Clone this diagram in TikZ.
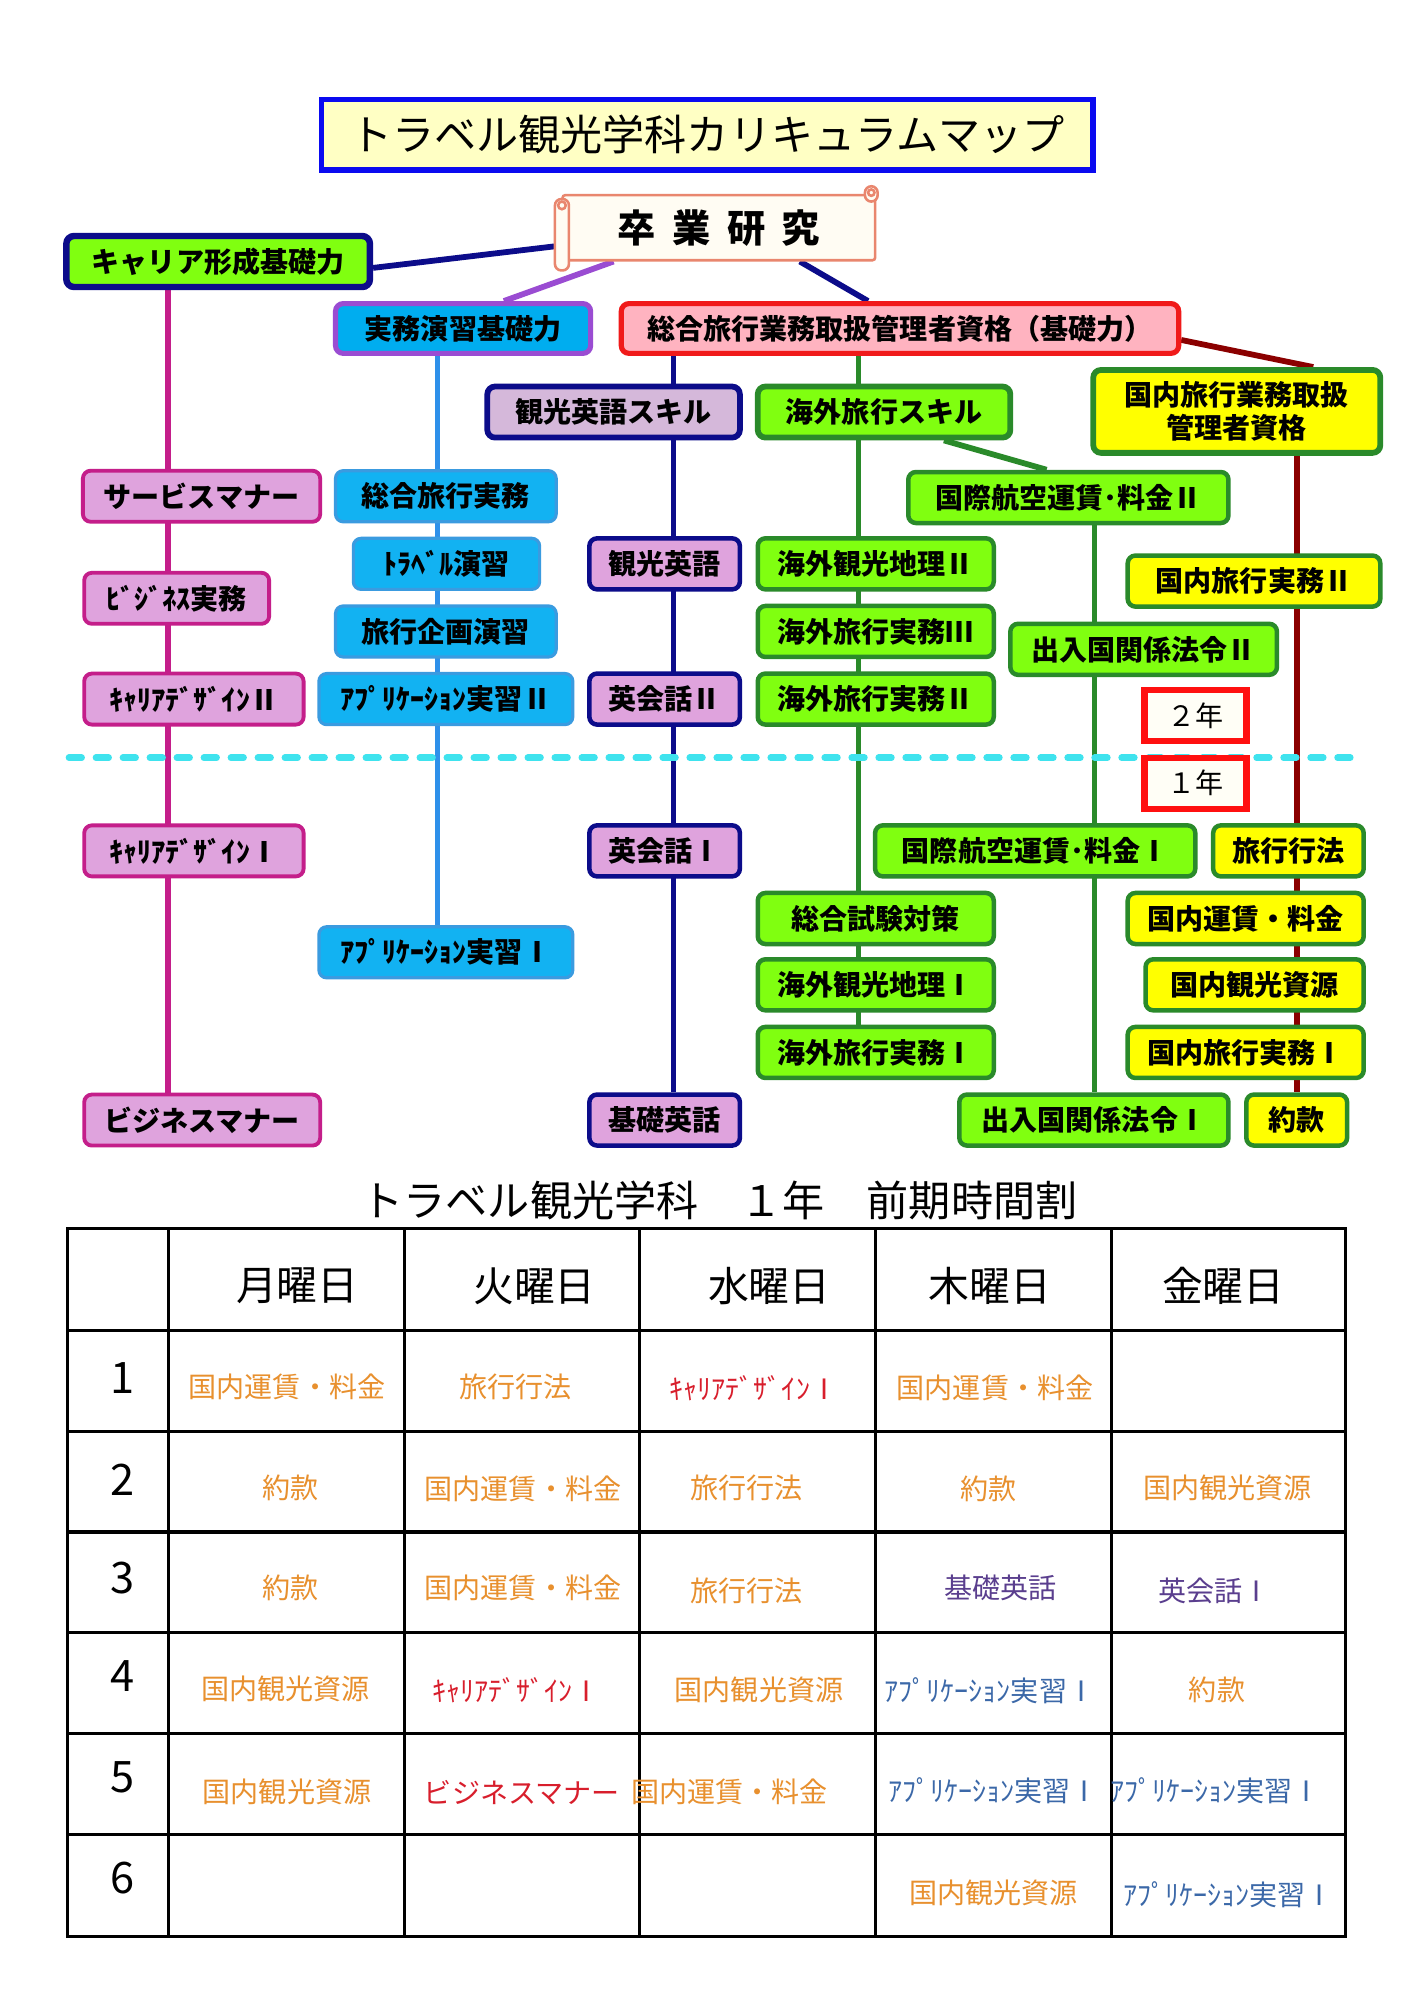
\documentclass[tikz,border=0pt]{standalone}
\usepackage{fontspec}
\setmainfont{Noto Sans CJK JP}
\usetikzlibrary{backgrounds,calc}
\definecolor{magc}{HTML}{C41E8A}
\definecolor{plumc}{HTML}{DFA3DD}
\definecolor{bluefill}{HTML}{12B2F2}
\definecolor{blueborder}{HTML}{3A9BE0}
\definecolor{bluel}{HTML}{2E90EA}
\definecolor{navyc}{HTML}{0C0C8A}
\definecolor{greenc}{HTML}{2A8A2A}
\definecolor{limec}{HTML}{80FF10}
\definecolor{yelc}{HTML}{FFFF00}
\definecolor{dredc}{HTML}{8B0000}
\definecolor{titlefill}{HTML}{FFFFC4}
\definecolor{titleborder}{HTML}{0A0AF0}
\definecolor{scrollc}{HTML}{E9866E}
\definecolor{scrollf}{HTML}{FFFCF3}
\definecolor{sogfill}{HTML}{FFB3C0}
\definecolor{sogborder}{HTML}{F01A1A}
\definecolor{jimborder}{HTML}{9A4CD2}
\definecolor{eskillf}{HTML}{D5B8DA}
\definecolor{dashc}{HTML}{3FE3EE}
\definecolor{yearc}{HTML}{FF1010}
\definecolor{yearf}{HTML}{FFFEF6}
\definecolor{orc}{HTML}{E8902E}
\definecolor{redt}{HTML}{D81E2C}
\definecolor{purt}{HTML}{5A3E8E}
\definecolor{blut}{HTML}{3B68A8}
\newcommand\nodefont{\fontsize{22}{26}\selectfont\bfseries}
\newcommand\cellfont{\fontsize{22}{26}\selectfont}
\newcommand\bigfont{\fontsize{33}{38}\selectfont}
\begin{document}
\begin{tikzpicture}[x=1pt,y=-1pt,scale=0.9925,every node/.append style={transform shape},
  base/.style={rounded corners=6pt, inner sep=0pt, font=\nodefont, align=center, text=black},
  magbox/.style={base, draw=magc, fill=plumc, line width=3pt},
  bluebox/.style={base, draw=blueborder, fill=bluefill, line width=2.5pt},
  navybox/.style={base, draw=navyc, fill=plumc, line width=3.5pt},
  greenbox/.style={base, draw=greenc, fill=limec, line width=3.5pt},
  yelbox/.style={base, draw=greenc, fill=yelc, line width=3.5pt},
  yearbox/.style={inner sep=0pt, draw=yearc, fill=yearf, line width=5pt, font=\cellfont, minimum width=80pt, minimum height=40pt},
  conn/.style={line width=4.5pt},
  magl/.style={conn, draw=magc},
  bluline/.style={conn, draw=bluel},
  navyl/.style={conn, draw=navyc},
  greenl/.style={conn, draw=greenc},
  redl/.style={conn, draw=dredc},
  purl/.style={conn, draw=jimborder},
  tabline/.style={line width=2.5pt, draw=black},
  cell/.style={inner sep=0pt, font=\cellfont},
  headcell/.style={inner sep=0pt, font=\fontsize{32}{36}\selectfont},
  numcell/.style={inner sep=0pt, font=\fontsize{34}{38}\selectfont},
  scrollpart/.style={draw=scrollc, fill=scrollf, line width=2pt}
]
\useasboundingbox (0,0) rectangle (1108.3,1567.8);
\coordinate (colA) at (132,0);
\coordinate (colB) at (343,0);
\coordinate (colC) at (528,0);
\coordinate (colD) at (673,0);
\coordinate (colE) at (858,0);
\coordinate (colF) at (1017,0);

% title
\node[inner sep=0pt, draw=titleborder, fill=titlefill, line width=4.5pt, minimum width=605pt, minimum height=55pt, font=\bigfont] (title) at (554.5,105.5) {トラベル観光学科カリキュラムマップ};

% scroll
\node[scrollpart, inner sep=0pt, rounded corners=2pt, minimum width=245pt, minimum height=51pt, font=\fontsize{30}{34}\selectfont\bfseries] (sotsu) at (563.5,178.5) {卒\hspace{13pt}業\hspace{13pt}研\hspace{13pt}究};
\filldraw[scrollpart, rounded corners=5pt] (435,156) rectangle (446,212);
\draw[scrollpart] (440.5,161) circle (3);
\filldraw[scrollpart, rounded corners=5pt] (678,146) rectangle (688,158);
\draw[scrollpart] (683,151) circle (2.5);

% top level
\node[base, draw=navyc, fill=limec, line width=5pt, minimum width=238pt, minimum height=40pt] (kar) at (171,205) {キャリア形成基礎力};
\node[base, draw=jimborder, fill=cyan, line width=4pt, minimum width=200pt, minimum height=39pt] (jim) at (363,257.5) {実務演習基礎力};
\node[base, draw=sogborder, fill=sogfill, line width=4pt, minimum width=437pt, minimum height=39pt] (sog) at (705.5,257.5) {総合旅行業務取扱管理者資格（基礎力）};
\node[yelbox, line width=4.5pt, minimum width=225pt, minimum height=65pt] (kok) at (969.5,322.5) {国内旅行業務取扱\\管理者資格};
\node[base, draw=navyc, fill=eskillf, line width=4.5pt, minimum width=198pt, minimum height=40pt] (eskill) at (481,323) {観光英語スキル};
\node[greenbox, line width=4.5pt, minimum width=198pt, minimum height=40pt] (kskill) at (693,323) {海外旅行スキル};

% magenta column
\node[magbox, minimum width=186pt, minimum height=40pt] (svm) at (158,389) {サービスマナー};
\node[magbox, minimum width=145pt, minimum height=40pt] (bizj) at (138.5,469) {ﾋﾞｼﾞﾈｽ実務};
\node[magbox, minimum width=172pt, minimum height=40pt] (cd2) at (152,548) {ｷｬﾘｱﾃﾞｻﾞｲﾝⅡ};
\node[magbox, minimum width=172pt, minimum height=40pt] (cd1) at (152,667) {ｷｬﾘｱﾃﾞｻﾞｲﾝⅠ};
\node[magbox, minimum width=185pt, minimum height=40pt] (bm) at (158.5,878) {ビジネスマナー};

% blue column
\node[bluebox, minimum width=173pt, minimum height=40pt] (sor) at (349.5,389) {総合旅行実務};
\node[bluebox, minimum width=146pt, minimum height=40pt] (tre) at (350,442) {ﾄﾗﾍﾞﾙ演習};
\node[bluebox, minimum width=173pt, minimum height=40pt] (kik) at (349.5,495) {旅行企画演習};
\node[bluebox, minimum width=199pt, minimum height=40pt] (ap2) at (349.5,548) {ｱﾌﾟﾘｹｰｼｮﾝ実習Ⅱ};
\node[bluebox, minimum width=199pt, minimum height=40pt] (ap1) at (349.5,746.5) {ｱﾌﾟﾘｹｰｼｮﾝ実習Ⅰ};

% navy column
\node[navybox, minimum width=118pt, minimum height=40pt] (kae) at (521,442) {観光英語};
\node[navybox, minimum width=118pt, minimum height=40pt] (ek2) at (521,548) {英会話Ⅱ};
\node[navybox, minimum width=118pt, minimum height=40pt] (ek1) at (521,667) {英会話Ⅰ};
\node[navybox, minimum width=118pt, minimum height=40pt] (kis) at (521,878) {基礎英話};

% green column D
\node[greenbox, minimum width=185pt, minimum height=40pt] (kg2) at (686.5,442) {海外観光地理Ⅱ};
\node[greenbox, minimum width=185pt, minimum height=40pt] (kj3) at (686.5,495) {海外旅行実務Ⅲ};
\node[greenbox, minimum width=185pt, minimum height=40pt] (kj2) at (686.5,548) {海外旅行実務Ⅱ};
\node[greenbox, minimum width=185pt, minimum height=40pt] (sst) at (686.5,720) {総合試験対策};
\node[greenbox, minimum width=185pt, minimum height=40pt] (kg1) at (686.5,772) {海外観光地理Ⅰ};
\node[greenbox, minimum width=185pt, minimum height=40pt] (kj1) at (686.5,825) {海外旅行実務Ⅰ};

% green column E
\node[greenbox, minimum width=251pt, minimum height=40pt] (ka2) at (837.5,390) {国際航空運賃･料金Ⅱ};
\node[greenbox, minimum width=209pt, minimum height=40pt] (sn2) at (896.5,509) {出入国関係法令Ⅱ};
\node[greenbox, minimum width=251pt, minimum height=40pt] (ka1) at (811.5,667) {国際航空運賃･料金Ⅰ};
\node[greenbox, minimum width=211pt, minimum height=40pt] (sn1) at (857.5,878) {出入国関係法令Ⅰ};

% yellow column
\node[yelbox, minimum width=198pt, minimum height=40pt] (kr2) at (983,455.5) {国内旅行実務Ⅱ};
\node[yelbox, minimum width=118pt, minimum height=40pt] (ryh) at (1010,667) {旅行行法};
\node[yelbox, minimum width=185pt, minimum height=40pt] (kuc) at (976.5,720) {国内運賃・料金};
\node[yelbox, minimum width=171pt, minimum height=40pt] (kks) at (983.5,772) {国内観光資源};
\node[yelbox, minimum width=185pt, minimum height=40pt] (kr1) at (976.5,825) {国内旅行実務Ⅰ};
\node[yelbox, minimum width=79pt, minimum height=40pt] (yak) at (1016.5,878) {約款};

% dashed separator
\coordinate (dashL) at (54,594);
\coordinate (dashR) at (1068,594);
\draw[dashc, line width=5pt, line cap=round, dash pattern=on 10pt off 11pt] (dashL) -- (dashR);

% year boxes
\node[yearbox] (y2) at (937,561) {２年};
\node[yearbox] (y1) at (937,614) {１年};

% timetable title
\node[inner sep=0pt, font=\bigfont] (ttitle) at (564,941) {トラベル観光学科　１年　前期時間割};

% table grid
\draw[tabline] (53,963) rectangle (1055,1518);
\foreach \xx in {132,317,501,686,871} \draw[tabline] (\xx,963) -- (\xx,1518);
\foreach \yy in {1043,1122,1201,1280,1359,1438} \draw[tabline] (53,\yy) -- (1055,\yy);

% header
\node[headcell] (hmon) at (233,1008) {月曜日};
\node[headcell] (htue) at (419,1008) {火曜日};
\node[headcell] (hwed) at (603,1008) {水曜日};
\node[headcell] (hthu) at (776,1008) {木曜日};
\node[headcell] (hfri) at (959,1008) {金曜日};

% period numbers
\node[numcell] (p1) at (96,1080) {1};
\node[numcell] (p2) at (96,1160) {2};
\node[numcell] (p3) at (96,1237) {3};
\node[numcell] (p4) at (96,1314) {4};
\node[numcell] (p5) at (96,1393) {5};
\node[numcell] (p6) at (96,1472) {6};

% row 1
\node[cell, text=orc] (c11) at (225,1087) {国内運賃・料金};
\node[cell, text=orc] (c12) at (404,1087) {旅行行法};
\node[cell, text=redt] (c13) at (591,1088) {ｷｬﾘｱﾃﾞｻﾞｲﾝⅠ};
\node[cell, text=orc] (c14) at (780,1088) {国内運賃・料金};
% row 2
\node[cell, text=orc] (c21) at (228,1166) {約款};
\node[cell, text=orc] (c22) at (410,1167) {国内運賃・料金};
\node[cell, text=orc] (c23) at (585,1166) {旅行行法};
\node[cell, text=orc] (c24) at (775,1167) {約款};
\node[cell, text=orc] (c25) at (962,1166) {国内観光資源};
% row 3
\node[cell, text=orc] (c31) at (228,1245) {約款};
\node[cell, text=orc] (c32) at (410,1245) {国内運賃・料金};
\node[cell, text=orc] (c33) at (585,1247) {旅行行法};
\node[cell, text=purt] (c34) at (784,1245) {基礎英話};
\node[cell, text=purt] (c35) at (952,1247) {英会話Ⅰ};
% row 4
\node[cell, text=orc] (c41) at (224,1324) {国内観光資源};
\node[cell, text=redt] (c42) at (405,1325) {ｷｬﾘｱﾃﾞｻﾞｲﾝⅠ};
\node[cell, text=orc] (c43) at (595,1325) {国内観光資源};
\node[cell, text=blut] (c44) at (776,1325) {ｱﾌﾟﾘｹｰｼｮﾝ実習Ⅰ};
\node[cell, text=orc] (c45) at (954,1325) {約款};
% row 5
\node[cell, text=orc] (c51) at (225,1405) {国内観光資源};
\node[cell, text=redt] (c52) at (409,1405) {ビジネスマナー};
\node[cell, text=orc] (c53) at (572,1405) {国内運賃・料金};
\node[cell, text=blut] (c54) at (779,1404) {ｱﾌﾟﾘｹｰｼｮﾝ実習Ⅰ};
\node[cell, text=blut] (c55) at (953,1404) {ｱﾌﾟﾘｹｰｼｮﾝ実習Ⅰ};
% row 6
\node[cell, text=orc] (c64) at (779,1484) {国内観光資源};
\node[cell, text=blut] (c65) at (963,1485) {ｱﾌﾟﾘｹｰｼｮﾝ実習Ⅰ};

\begin{pgfonlayer}{background}
\fill[white] (0,0) rectangle (1108.3,1567.8);
% from graduation research
\draw[navyl] ($(sotsu.west)+(0,14)$) -- ($(kar.east)+(0,5)$);
\draw[purl] ($(sotsu.south west)+(41,0)$) -- ($(jim.north)+(32,0)$);
\draw[navyl] ($(sotsu.south west)+(187,0)$) -- ($(sog.north)+(-25,0)$);
\draw[redl] ($(sog.east)+(0,9)$) -- ($(kok.north)+(60,0)$);
% verticals
\draw[magl] (kar.south -| colA) -- (bm.north -| colA);
\draw[bluline] (jim.south -| colB) -- (ap1.north -| colB);
\draw[navyl] (sog.south -| colC) -- (eskill.north -| colC);
\draw[navyl] (eskill.south -| colC) -- (kis.north -| colC);
\draw[greenl] (sog.south -| colD) -- (kskill.north -| colD);
\draw[greenl] (kskill.south -| colD) -- (kj1.north -| colD);
\draw[greenl] ($(kskill.south)+(47,0)$) -- ($(ka2.north)+(-17,0)$);
\draw[greenl] (ka2.south -| colE) -- (sn1.north -| colE);
\draw[redl] (kok.south -| colF) -- (yak.north -| colF);
\end{pgfonlayer}
\end{tikzpicture}
\end{document}
